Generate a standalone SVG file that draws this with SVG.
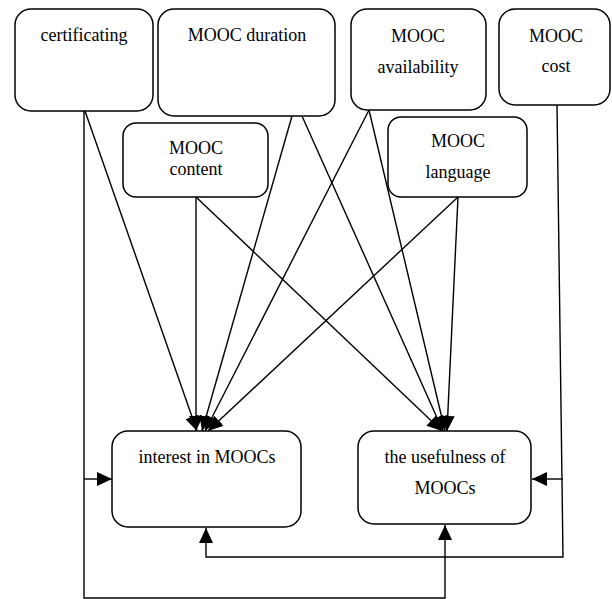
<svg xmlns="http://www.w3.org/2000/svg" width="612" height="599" viewBox="0 0 612 599">
<style>
.box{fill:#fff;stroke:#000;stroke-width:1.5}
.t{font-size:18px;fill:#000;text-anchor:middle}
.c{fill:none;stroke:#000;stroke-width:1.4}
</style>
<defs>
<marker id="ah" markerUnits="userSpaceOnUse" markerWidth="15" markerHeight="14" refX="15" refY="7" orient="auto">
<path d="M0,0 L15,7 L0,14 z" fill="#000"/>
</marker>
</defs>
<rect width="612" height="599" fill="#fff"/>
<g id="connectors">
<path class="c" d="M85,111 L197,431" marker-end="url(#ah)"/>
<path class="c" d="M84,111 L84,598 L445,598 L445,525" marker-end="url(#ah)"/>
<path class="c" d="M84,479 L112,479" marker-end="url(#ah)"/>
<path class="c" d="M196,197 L196,431" marker-end="url(#ah)"/>
<path class="c" d="M196,197 L442,431" marker-end="url(#ah)"/>
<path class="c" d="M292,116 L202,431" marker-end="url(#ah)"/>
<path class="c" d="M302,116 L443,431" marker-end="url(#ah)"/>
<path class="c" d="M369,110 L205,431" marker-end="url(#ah)"/>
<path class="c" d="M369,110 L445,431" marker-end="url(#ah)"/>
<path class="c" d="M458,197 L208,431" marker-end="url(#ah)"/>
<path class="c" d="M458,197 L447,431" marker-end="url(#ah)"/>
<path class="c" d="M557,105 L563,557 L206,557 L206,528" marker-end="url(#ah)"/>
<path class="c" d="M563,479 L532,479" marker-end="url(#ah)"/>
</g>
<g font-family="'Liberation Serif', 'DejaVu Serif', serif">
<g id="certificating">
<rect class="box" x="15" y="9" width="138" height="102" rx="16"/>
<text class="t" x="84" y="41">certificating</text>
</g>
<g id="duration">
<rect class="box" x="158" y="9" width="177" height="107" rx="16"/>
<text class="t" x="247" y="41">MOOC duration</text>
</g>
<g id="availability">
<rect class="box" x="351" y="9" width="135" height="101" rx="16"/>
<text class="t" x="418" y="42">MOOC</text>
<text class="t" x="418" y="73">availability</text>
</g>
<g id="cost">
<rect class="box" x="499" y="9" width="111" height="96" rx="16"/>
<text class="t" x="556" y="42">MOOC</text>
<text class="t" x="556" y="72">cost</text>
</g>
<g id="content">
<rect class="box" x="123" y="123" width="145" height="74" rx="13"/>
<text class="t" x="196" y="154">MOOC</text>
<text class="t" x="196" y="175">content</text>
</g>
<g id="language">
<rect class="box" x="388" y="117" width="139" height="80" rx="13"/>
<text class="t" x="458" y="147">MOOC</text>
<text class="t" x="458" y="178">language</text>
</g>
<g id="interest">
<rect class="box" x="112" y="431" width="189" height="96" rx="16"/>
<text class="t" x="207" y="463">interest in MOOCs</text>
</g>
<g id="usefulness">
<rect class="box" x="358" y="431" width="173" height="93" rx="16"/>
<text class="t" x="445" y="463">the usefulness of</text>
<text class="t" x="445" y="494">MOOCs</text>
</g>
</g>
</svg>
